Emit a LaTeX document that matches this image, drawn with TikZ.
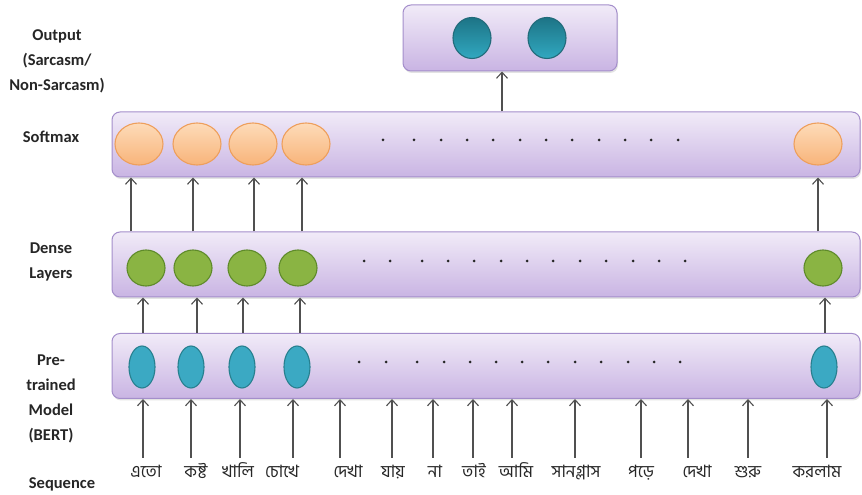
\documentclass[tikz,border=0pt]{standalone}
\usepackage{fontspec}
\setsansfont{Carlito}
\newfontfamily\bangla[Script=Bengali]{Hind Siliguri}
\usetikzlibrary{arrows.meta,positioning,shapes.geometric,shadows}
\definecolor{ink}{HTML}{262626}
\definecolor{arrowc}{HTML}{505050}
\definecolor{layertop}{HTML}{F1EBF8}
\definecolor{layerbot}{HTML}{C9B4E3}
\definecolor{layeredge}{HTML}{A48ECB}
\definecolor{softtop}{HTML}{FDDBB9}
\definecolor{softbot}{HTML}{F8B47A}
\definecolor{softedge}{HTML}{EE9F5C}
\definecolor{densefill}{HTML}{8AB443}
\definecolor{denseedge}{HTML}{5E8A2A}
\definecolor{bertfill}{HTML}{3BA9C3}
\definecolor{bertedge}{HTML}{27808F}
\definecolor{outtop}{HTML}{1D7486}
\definecolor{outbot}{HTML}{31A8C0}
\definecolor{outedge}{HTML}{226B7A}

\begin{document}
\begin{tikzpicture}[
  x=1pt,y=1pt,
  font=\sffamily,
  sidetext/.style={font=\sffamily\bfseries\fontsize{16.5}{25}\selectfont,text=ink,align=center},
  word/.style={font=\bangla\fontsize{17}{20}\selectfont,text=ink,inner sep=0pt,
    text height=12pt,text depth=4pt,outer ysep=8pt},
  layer/.style={rounded corners=8pt,draw=layeredge,line width=1pt,
    top color=layertop,bottom color=layerbot,minimum height=65pt,inner sep=0pt,
    drop shadow={opacity=.22,shadow xshift=1pt,shadow yshift=-2pt}},
  unit/.style={ellipse,inner sep=0pt,line width=1.1pt},
  softunit/.style={unit,draw=softedge,top color=softtop,bottom color=softbot,
    minimum width=48pt,minimum height=42pt},
  denseunit/.style={unit,draw=denseedge,fill=densefill,minimum width=38pt,minimum height=36pt},
  bertunit/.style={unit,draw=bertedge,fill=bertfill,minimum width=26pt,minimum height=42pt},
  outunit/.style={unit,draw=outedge,top color=outtop,bottom color=outbot,
    minimum width=38pt,minimum height=41pt},
  arr/.style={-{Straight Barb[length=6pt,width=11pt]},line width=1.1pt,draw=arrowc}
]
\useasboundingbox (0,0) rectangle (862,495);
\fill[white] (0,0) rectangle (862,495);

% Layers
\node[layer,minimum width=214pt,minimum height=66pt] (out) at (510,457) {};
\node[layer,minimum width=748pt] (soft) at (486,350.5) {};
\node[layer,minimum width=748pt] (dense) at (486,230.5) {};
\node[layer,minimum width=748pt] (bert) at (486,129) {};

% Units in each layer
\node[outunit] (o1) at (472,457) {};
\node[outunit] (o2) at (547,457) {};
\foreach \x [count=\i] in {139,197,253,306,818}
  \node[softunit] (s\i) at (\x,351) {};
\foreach \x [count=\i] in {146,193,247,298,823}
  \node[denseunit] (d\i) at (\x,227) {};
\foreach \x [count=\i] in {142,191,242,297,824}
  \node[bertunit] (b\i) at (\x,128) {};

% Ellipsis dots
\foreach \x in {383,414,441,467,493,520,546,572,599,625,651,678}
  \fill[ink] (\x,355) circle (1.5pt);
\foreach \x in {364,390,422,448,474,501,527,553,580,606,633,659,685}
  \fill[ink] (\x,234) circle (1.5pt);
\foreach \x in {359,386,417,444,470,496,522,548,575,601,628,654,680}
  \fill[ink] (\x,133) circle (1.5pt);

% Connections between layers
\draw[arr] (soft.north -| 502,0) -- (out.south -| 502,0);
\foreach \x in {131,193,254,302,818}
  \draw[arr] (dense.north -| \x,0) -- (soft.south -| \x,0);
\foreach \x in {143,197,243,300,825}
  \draw[arr] (bert.north -| \x,0) -- (dense.south -| \x,0);

% Input sequence
\foreach \w/\x/\a [count=\i] in {এতো/146/143,কষ্ট/196/191,খালি/238/240,চোখে/282/293,
    দেখা/348/340,যায়/393/392,না/435/433,তাই/474/473,আমি/516/512,সানগ্লাস/576/575,
    পড়ে/641/641,দেখা/697/688,শুরু/748/748,করলাম/817/827} {
  \node[word] (w\i) at (\x,21) {\w};
  \draw[arr] (w\i.north -| \a,0) -- (bert.south -| \a,0);
}

% Side labels
\node[sidetext] (lout) at (57,434) {Output\\(Sarcasm/\\Non-Sarcasm)};
\node[sidetext] (lsoft) at (51,358) {Softmax};
\node[sidetext] (ldense) at (51,233) {Dense\\Layers};
\node[sidetext] (lbert) at (51,96) {Pre-\\trained\\Model\\(BERT)};
\node[sidetext] (lseq) at (62,11) {Sequence};
\end{tikzpicture}
\end{document}
